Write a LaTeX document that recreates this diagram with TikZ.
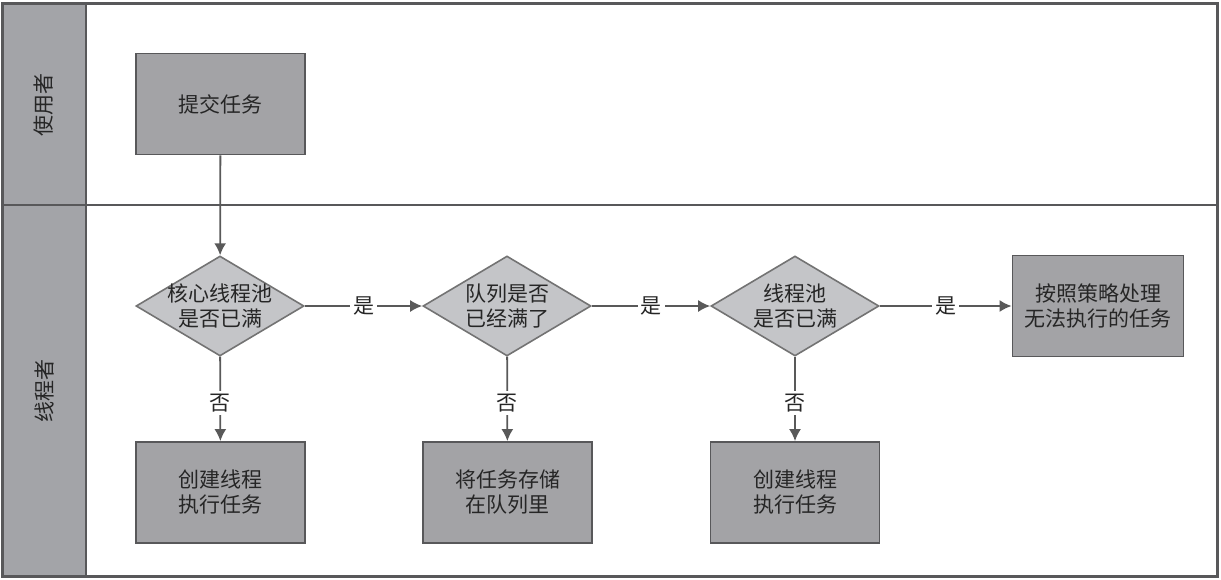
\documentclass[tikz,border=0pt]{standalone}
\usepackage{fontspec}
\newfontfamily\cjk{Noto Sans CJK SC}
\usepackage{tikz}
\usetikzlibrary{arrows.meta,shapes.geometric,positioning}

\definecolor{lanegray}{RGB}{163,164,168}
\definecolor{boxgray}{RGB}{163,163,166}
\definecolor{diamondgray}{RGB}{196,197,200}
\definecolor{framegray}{RGB}{88,88,90}

\begin{document}
\begin{tikzpicture}[x=0.5pt,y=-0.5pt,
	every node/.style={font=\cjk\fontsize{10.5pt}{12.5pt}\selectfont, text=black!85},
	taskbox/.style={draw=framegray, line width=0.9pt, fill=boxgray, minimum width=84.5pt, minimum height=50.5pt, align=center, inner sep=0pt},
	decision/.style={diamond, draw=black!55, line width=0.8pt, fill=diamondgray, minimum width=84pt, minimum height=50pt, inner sep=0pt},
	flow/.style={->, >={Latex[length=6pt,width=6pt]}, draw=black!65, line width=0.9pt},
	answer/.style={fill=white, inner sep=1.5pt}]
	% Define lane split
	\def \split {205}
	\useasboundingbox (0,0) rectangle (1221,579);
	% Draw lanes
	\fill[lanegray] (2,3) rectangle (86,576);
	\draw[framegray, line width=0.9pt] (86,3) -- (86,576);
	\draw[framegray, line width=1pt] (2,\split) -- (1217,\split);
	\draw[framegray, line width=1.5pt] (2,3) rectangle (1217,576);
	\node[rotate=90] (user) at (44,105) {使用者};
	\node[rotate=90] (worker) at (44,391) {线程者};
	% Draw nodes
	\node[taskbox] (submit) at (220.5,104) {提交任务};
	\node[decision, label={[align=center]center:核心线程池\\是否已满}] (core) at (220,306) {};
	\node[decision, label={[align=center]center:队列是否\\已经满了}] (queue) at (507,306) {};
	\node[decision, label={[align=center]center:线程池\\是否已满}] (pool) at (795,306) {};
	\node[taskbox, minimum width=85.5pt] (reject) at (1098,306) {按照策略处理\\无法执行的任务};
	\node[taskbox] (create) at (220.5,492.5) {创建线程\\执行任务};
	\node[taskbox] (store) at (507.5,492.5) {将任务存储\\在队列里};
	\node[taskbox] (spawn) at (795,492.5) {创建线程\\执行任务};
	% Draw flows
	\draw[flow] (submit) -- (core);
	\draw[flow] (core) -- node[answer] {是} (queue);
	\draw[flow] (queue) -- node[answer] {是} (pool);
	\draw[flow] (pool) -- node[answer] {是} (reject);
	\draw[flow] (core) -- node[answer, pos=0.55] {否} (create);
	\draw[flow] (queue) -- node[answer, pos=0.55] {否} (store);
	\draw[flow] (pool) -- node[answer, pos=0.55] {否} (spawn);
\end{tikzpicture}
\end{document}
